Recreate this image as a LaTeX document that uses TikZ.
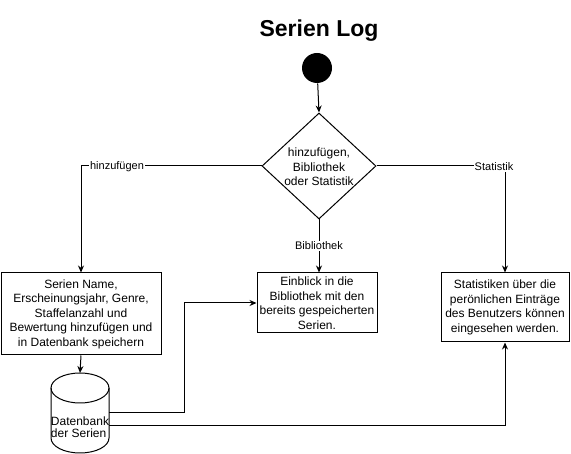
\documentclass[tikz,border=0pt]{standalone}
\usepackage{fontspec}
\setmainfont{Liberation Sans}
\usetikzlibrary{shapes.geometric,arrows.meta}
\begin{document}
\begin{tikzpicture}[x=1pt,y=1pt,line width=1pt,
  box/.style={draw,rectangle,inner sep=0pt,align=center,font=\fontsize{12}{14.5}\selectfont},
  lbl/.style={fill=white,inner sep=1pt,font=\fontsize{11}{13}\selectfont},
  arr/.style={-{Stealth[length=7pt,width=6pt]}}]
\useasboundingbox (0,0) rectangle (571,-454);
\node[font=\fontsize{23}{27}\selectfont\bfseries] (title) at (319,-31) {Serien Log};
\node[circle,fill=black,minimum size=30pt,inner sep=0pt] (start) at (317,-68) {};
\node[diamond,draw,minimum width=114pt,minimum height=106pt,inner sep=0pt] (d) at (319,-166) {};
\node[align=center,font=\fontsize{12}{14.5}\selectfont] (dtext) at (319,-167) {hinzufügen,\\Bibliothek\\oder Statistik};
\node[box,minimum width=160pt,minimum height=82pt] (A) at (81,-314) {Serien Name,\\Erscheinungsjahr, Genre,\\Staffelanzahl und\\Bewertung hinzufügen und\\in Datenbank speichern};
\node[box,minimum width=120pt,minimum height=60pt] (B) at (317,-303) {Einblick in die\\Bibliothek mit den\\bereits gespeicherten\\Serien.};
\node[box,minimum width=128pt,minimum height=69pt] (C) at (505,-307.5) {Statistiken über die\\perönlichen Einträge\\des Benutzers können\\eingesehen werden.};
% cylinder
\draw[fill=white] (51,-388) -- (51,-438) arc[start angle=180,end angle=360,x radius=29pt,y radius=15pt] -- (109,-388);
\draw (80,-388) ellipse[x radius=29pt,y radius=15pt];
\node[minimum width=58pt,minimum height=80pt,inner sep=0pt] (cyl) at (80,-413) {};
\node[align=left,inner sep=0pt,font=\fontsize{12}{12.5}\selectfont] (cyltext) at (80,-427) {Datenbank\\der Serien};
\coordinate (cylA) at (109,-413);
\coordinate (cylB) at (109,-426);
\coordinate (cylT) at (80,-373);
% connectors
\draw[arr] (start) -- (d.north);
\draw[arr] (d.west) -- (A.north |- d.west) -- (A.north);
\draw[arr] (d.east) -- (C.north |- d.east) -- (C.north);
\draw[arr] (d.south) -- (d.south |- B.north);
\draw[arr] (A.south) -- (cylT);
\draw[arr] (cylA) -- (184,-413) -- (184,-303) -- (B.west);
\draw[arr] (cylB) -- (C.south |- cylB) -- (C.south);
\node[lbl] (l1) at (117,-167) {hinzufügen};
\node[lbl] (l2) at (494,-167) {Statistik};
\node[lbl] (l3) at (319,-246) {Bibliothek};
\end{tikzpicture}
\end{document}
